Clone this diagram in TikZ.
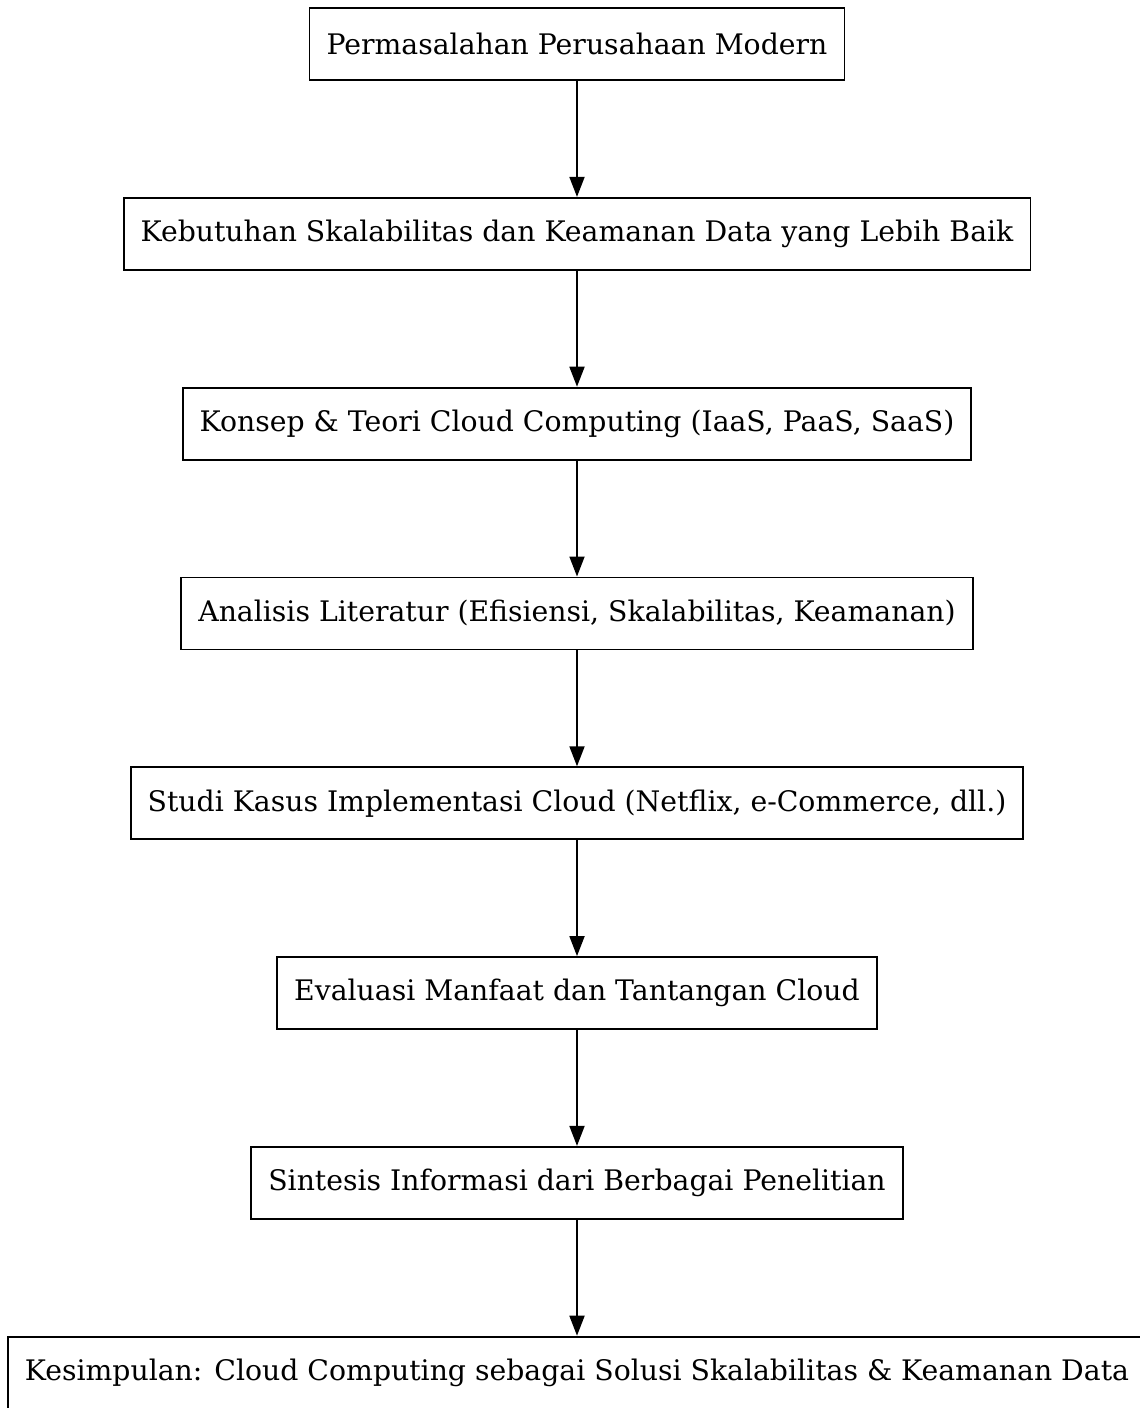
\documentclass[tikz,border=0pt]{standalone}
\usepackage{fontspec}
\setmainfont{DejaVu Serif}
\usetikzlibrary{positioning,arrows.meta}
\begin{document}
\begin{tikzpicture}[
    x=1pt,
    y=1pt,
    every node/.style={font=\fontsize{14.15}{16}\selectfont},
    kotak/.style={draw=black, line width=0.9pt, fill=white, inner xsep=8.5pt, minimum height=36pt},
    panah/.style={-{Triangle[length=10pt, width=7.5pt]}, line width=0.9pt},
    node distance=58pt
]

% Bidang gambar:
% ukuran halaman tetap, kotak terakhir boleh terpotong di tepi kanan.
\useasboundingbox (0,0) rectangle (570,-704);

% Alur penelitian:
% kotak-kotak disusun tegak, satu di bawah yang lain.
\node[kotak] (masalah) at (288.5,-22) {Permasalahan Perusahaan Modern};
\node[kotak, below=of masalah] (kebutuhan)
    {Kebutuhan Skalabilitas dan Keamanan Data yang Lebih Baik};
\node[kotak, below=of kebutuhan] (konsep)
    {Konsep \& Teori Cloud Computing (IaaS, PaaS, SaaS)};
\node[kotak, below=of konsep] (analisis)
    {Analisis Literatur (Efisiensi, Skalabilitas, Keamanan)};
\node[kotak, below=of analisis] (studi)
    {Studi Kasus Implementasi Cloud (Netflix, e-Commerce, dll.)};
\node[kotak, below=of studi] (evaluasi)
    {Evaluasi Manfaat dan Tantangan Cloud};
\node[kotak, below=of evaluasi] (sintesis)
    {Sintesis Informasi dari Berbagai Penelitian};
\node[kotak, below=of sintesis] (kesimpulan)
    {Kesimpulan: Cloud Computing sebagai Solusi Skalabilitas \& Keamanan Data};

% Panah:
% menghubungkan setiap tahap dengan tahap berikutnya.
\foreach \a/\b in {masalah/kebutuhan, kebutuhan/konsep, konsep/analisis,
                   analisis/studi, studi/evaluasi, evaluasi/sintesis,
                   sintesis/kesimpulan}
    \draw[panah] (\a.south) -- (\b.north);

\end{tikzpicture}
\end{document}
